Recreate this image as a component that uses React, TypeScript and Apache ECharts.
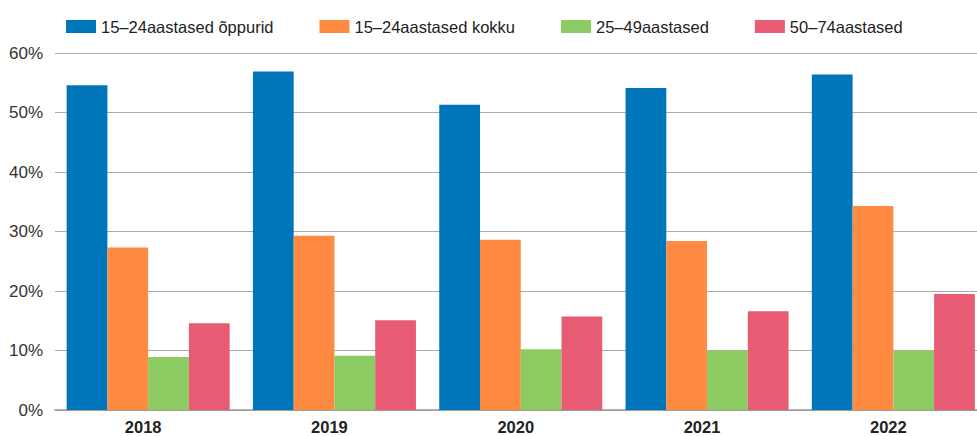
import React, { useEffect, useRef } from "react";
import * as echarts from "echarts";

const categories = ["2018", "2019", "2020", "2021", "2022"];
const seriesNames = [
  "15–24aastased õppurid",
  "15–24aastased kokku",
  "25–49aastased",
  "50–74aastased",
];
const students = [54.6, 56.9, 51.3, 54.1, 56.4];
const youthTotal = [27.3, 29.3, 28.6, 28.4, 34.3];
const age25to49 = [8.9, 9.1, 10.2, 10.0, 10.0];
const age50to74 = [14.6, 15.1, 15.7, 16.6, 19.5];
const colors = ["#0076BA", "#FF8B42", "#8BCB62", "#E75C72"];

export default function App() {
  const ref = useRef<HTMLDivElement>(null);
  useEffect(() => {
    document.body.style.margin = "0";
    const chart = echarts.init(ref.current!, null, { renderer: "svg" });
    const font = "'Liberation Sans', Arial, Helvetica, sans-serif";
    const values = [students, youthTotal, age25to49, age50to74];
    chart.setOption({
      animation: false,
      color: colors,
      textStyle: { fontFamily: font },
      legend: {
        left: 61,
        top: 13,
        itemWidth: 30,
        itemHeight: 13,
        itemGap: 46,
        icon: "rect",
        textStyle: { fontSize: 16.5, color: "#222", fontFamily: font },
        data: seriesNames,
      },
      grid: { left: 55, top: 53, width: 931.5, height: 357, containLabel: false },
      xAxis: {
        type: "category",
        data: categories,
        boundaryGap: true,
        axisLine: { lineStyle: { color: "#999", width: 1.5 } },
        axisTick: { inside: true, length: 7, lineStyle: { color: "#999" } },
        axisLabel: {
          fontSize: 16.5,
          fontWeight: "bold",
          color: "#222",
          margin: 8,
          padding: [0, 10, 0, 0],
          fontFamily: font,
        },
      },
      yAxis: {
        type: "value",
        min: 0,
        max: 60,
        interval: 10,
        axisLine: { show: false },
        axisTick: { show: false },
        axisLabel: {
          formatter: "{value}%",
          fontSize: 17,
          color: "#333",
          margin: 12,
          fontFamily: font,
        },
        splitLine: { lineStyle: { color: "#aaa", width: 1 } },
      },
      series: seriesNames.map((name, i) => ({
        name,
        type: "bar",
        data: values[i],
        barGap: "0%",
        barCategoryGap: "12.5%",
        itemStyle: { color: colors[i] },
      })),
    });
    return () => chart.dispose();
  }, []);
  return (
    <div
      style={{ position: "fixed", left: 0, top: 0, width: 977, height: 436, overflow: "hidden", background: "#fff" }}
    >
      <div ref={ref} style={{ width: 1000, height: 436 }} />
    </div>
  );
}
